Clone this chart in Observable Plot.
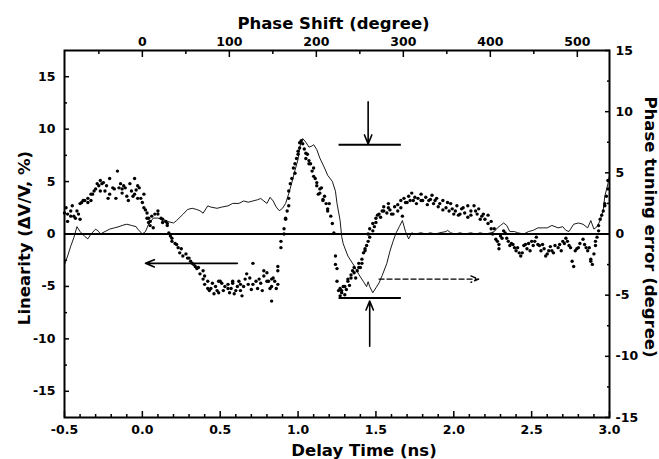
<!DOCTYPE html>
<html><head><meta charset="utf-8">
<script src="https://cdn.jsdelivr.net/npm/d3@7"></script>
<script src="https://cdn.jsdelivr.net/npm/@observablehq/plot@0.6"></script>
<style>html,body{margin:0;padding:0;background:#fff;} svg{display:block}</style>
</head><body><div id="chart"></div>
<script>
// Linearity scatter (left axis, %)
const dotTime = [
-0.50,-0.49,-0.48,-0.48,-0.46,-0.46,-0.45,-0.44,-0.43,-0.42,-0.41,-0.40,-0.40,-0.39,-0.38,-0.37,-0.35,-0.35,-0.33,-0.33,
-0.32,-0.31,-0.30,-0.29,-0.28,-0.27,-0.27,-0.26,-0.25,-0.24,-0.23,-0.22,-0.21,-0.21,-0.19,-0.18,-0.17,-0.16,-0.15,-0.14,
-0.13,-0.13,-0.12,-0.11,-0.10,-0.09,-0.08,-0.07,-0.06,-0.05,-0.05,-0.04,-0.03,-0.02,-0.03,-0.01,0.00,0.01,
0.01,0.02,0.03,0.03,0.04,0.04,0.05,0.05,0.06,0.07,0.08,0.10,0.10,0.12,0.13,0.13,0.15,0.16,0.16,0.17,
0.18,0.19,0.19,0.21,0.22,0.23,0.24,0.25,0.26,0.28,0.29,0.30,0.31,0.32,0.33,0.34,0.35,0.36,0.37,0.39,
0.39,0.40,0.40,0.42,0.42,0.43,0.44,0.45,0.46,0.47,0.48,0.49,0.49,0.50,0.51,0.52,0.53,0.55,0.55,0.56,
0.57,0.58,0.58,0.59,0.60,0.61,0.62,0.63,0.63,0.64,0.65,0.66,0.67,0.68,0.69,0.70,0.71,0.71,0.73,0.74,
0.75,0.76,0.77,0.78,0.78,0.80,0.80,0.81,0.82,0.83,0.83,0.83,0.84,0.85,0.86,0.87,0.87,0.87,
0.89,0.89,0.91,0.91,0.92,0.92,0.93,0.94,0.94,0.94,0.95,0.96,0.97,0.98,0.98,0.99,1.00,1.00,1.01,1.01,
1.02,1.03,1.04,1.05,1.05,1.06,1.07,1.07,1.08,1.09,1.10,1.10,1.11,1.12,1.12,1.13,1.14,1.14,1.15,1.16,
1.16,1.17,1.18,1.19,1.19,1.20,1.21,1.22,1.23,1.24,1.24,1.25,1.25,
1.26,1.27,1.27,1.28,1.28,1.29,1.30,1.30,1.31,1.32,1.32,1.33,1.34,1.34,1.35,1.36,1.36,1.37,1.38,1.39,
1.39,1.40,1.41,1.41,1.42,1.43,1.43,1.44,1.45,1.45,1.46,1.46,1.48,1.48,1.49,1.50,1.50,1.51,1.52,1.53,
1.54,1.55,1.55,1.57,1.58,1.58,1.59,1.60,1.61,1.62,1.64,1.64,1.66,1.66,1.67,1.68,
1.69,1.70,1.71,1.72,1.73,1.74,1.75,1.76,1.77,1.79,1.79,1.80,1.82,1.83,1.84,1.85,1.86,1.87,1.88,1.89,
1.90,1.91,1.93,1.93,1.95,1.96,1.97,1.98,1.99,2.00,2.01,2.02,2.03,2.04,2.05,2.06,2.07,2.09,2.09,2.11,
2.11,2.13,2.14,2.15,2.16,2.17,2.18,2.19,2.20,2.22,2.22,2.24,2.24,
2.25,2.26,2.27,2.28,2.29,2.29,2.30,2.31,2.32,2.33,2.34,2.35,2.36,2.37,2.38,2.39,2.40,2.41,2.42,2.43,
2.44,2.45,2.46,2.47,2.48,2.49,2.50,2.51,2.52,2.53,2.54,2.55,2.56,2.57,2.58,2.59,2.60,2.61,2.62,2.63,
2.64,2.65,2.67,2.68,2.69,2.70,2.71,2.72,2.73,2.74,2.75,2.76,2.77,2.78,2.79,2.80,2.81,2.83,2.84,2.85,
2.86,2.87,2.88,2.88,2.89,2.90,2.91,2.91,2.92,2.93,2.93,2.94,2.95,2.96,2.97,2.97,2.98,2.99,2.99
];
const dotLinearity = [
2.0,2.5,1.9,1.2,2.2,1.7,2.7,1.7,1.5,2.2,1.9,1.4,2.9,3.0,3.2,3.2,3.0,3.4,3.8,3.2,
3.8,4.1,4.3,4.8,4.6,4.1,5.1,4.8,4.9,4.1,4.6,3.4,5.3,3.8,4.4,4.3,3.4,6.0,4.4,4.8,
3.9,4.3,4.6,4.4,3.6,3.2,4.8,4.1,3.6,5.3,3.8,4.2,4.6,4.4,3.4,3.4,3.0,3.8,
2.5,2.3,2.0,1.5,1.5,1.1,1.2,0.8,1.7,0.6,1.9,1.9,2.2,1.5,1.1,1.4,1.2,1.0,0.8,0.1,
-0.2,-0.4,-0.7,-0.9,-1.0,-1.3,-1.8,-1.4,-2.1,-1.9,-2.3,-2.3,-2.6,-2.8,-2.9,-3.1,-3.3,-3.2,-3.8,-3.5,
-4.3,-4.0,-4.8,-5.2,-4.5,-5.4,-5.2,-4.7,-5.7,-5.0,-5.4,-5.6,-4.5,-4.5,-4.7,-5.4,-5.0,-4.8,-5.2,-5.6,
-5.2,-4.5,-4.7,-5.7,-5.4,-5.0,-4.5,-4.8,-5.4,-5.9,-5.0,-4.3,-3.8,-4.8,-4.2,-5.3,-2.8,-4.8,-4.5,-5.2,
-4.3,-4.7,-5.4,-4.0,-3.5,-4.5,-3.7,-4.5,-5.2,-4.3,-5.0,-6.4,-4.2,-4.5,-5.2,-4.8,-3.5,-3.1,
-1.3,-0.7,0.0,0.5,1.4,1.5,2.2,2.7,3.4,4.1,4.8,5.3,6.3,5.8,6.7,7.2,7.9,7.6,8.2,8.7,
8.9,8.6,8.1,7.2,7.7,7.6,6.7,7.0,6.7,6.0,6.3,5.5,5.3,4.9,4.6,3.8,4.3,3.9,4.4,3.3,
3.2,3.6,2.9,2.4,2.2,2.9,1.7,1.0,0.1,-2.1,-2.9,-3.3,-4.5,
-5.4,-5.9,-5.2,-5.6,-5.4,-5.0,-5.8,-5.0,-5.3,-4.3,-4.5,-4.9,-4.2,-3.9,-3.5,-3.7,-3.2,-4.2,-3.5,-3.2,
-2.8,-3.2,-2.4,-2.8,-1.8,-1.6,-1.4,-1.1,-0.7,0.0,-0.3,0.5,0.3,1.0,0.7,1.5,1.1,1.8,1.9,1.6,
2.2,2.2,2.6,2.0,2.5,2.9,2.3,1.9,1.9,2.6,2.2,2.8,2.5,3.2,1.7,3.4,
3.0,3.0,3.6,3.2,3.9,3.2,3.5,2.9,3.4,3.8,3.2,3.2,3.5,2.8,3.2,3.3,3.7,2.9,3.2,3.4,
2.6,2.9,3.2,2.3,2.5,3.0,2.2,2.9,2.4,1.9,2.2,2.7,1.8,1.9,2.4,2.5,2.0,1.6,2.7,2.2,
1.8,2.7,2.2,1.9,2.4,1.4,1.7,1.9,1.4,1.8,1.0,1.2,0.5,
0.0,0.5,-0.5,-0.7,-1.0,-1.4,-0.2,-0.4,0.3,0.1,-0.4,-0.7,-1.1,-0.9,-1.0,-1.3,-1.6,-1.3,-1.8,-2.1,
-1.8,-1.1,-1.0,-1.4,-0.9,-1.6,-0.7,-1.1,-0.7,-0.3,-1.0,-1.1,-1.6,-1.0,-1.4,-2.1,-1.9,-1.6,-1.2,-1.6,
-1.8,-1.1,-1.3,-1.0,-1.6,-0.7,-0.9,-0.4,-0.7,-1.1,-1.3,-2.6,-3.1,-1.6,-1.4,-1.3,-0.9,-0.5,-1.0,-1.3,
-1.6,-1.3,-2.4,-2.6,-2.9,-1.9,-1.1,-0.7,-0.3,0.3,0.8,1.4,1.8,2.2,2.7,2.9,3.6,4.3,5.1
];
// Phase tuning error line (right axis, degree)
const lineTime = [
-0.50,-0.48,-0.46,-0.44,-0.42,-0.40,-0.37,-0.35,-0.33,-0.30,-0.28,-0.27,-0.24,-0.21,-0.18,-0.15,-0.13,-0.10,-0.07,-0.04,
-0.03,0.00,0.02,0.04,0.07,0.10,0.13,0.17,0.20,0.22,0.26,0.29,0.32,0.35,0.37,0.39,0.42,0.44,0.48,0.51,
0.55,0.58,0.62,0.65,0.68,0.71,0.74,0.76,0.78,0.80,0.82,0.84,0.86,0.88,0.90,0.92,0.94,0.96,0.98,1.00,
1.01,1.03,1.05,1.07,1.09,1.10,1.12,1.14,1.17,1.19,1.22,1.24,1.25,1.27,1.28,1.29,1.32,1.36,1.39,1.42,
1.44,1.45,1.46,1.48,1.50,1.52,1.54,1.57,1.59,1.61,1.63,1.65,1.67,1.69,1.71,1.73,1.75,1.79,1.82,1.85,
1.88,1.91,1.95,1.96,1.98,2.01,2.04,2.07,2.11,2.14,2.17,2.20,2.24,2.26,2.28,2.30,2.32,2.34,2.36,2.39,
2.41,2.45,2.48,2.51,2.54,2.57,2.60,2.63,2.67,2.70,2.72,2.74,2.77,2.80,2.83,2.86,2.88,2.90,2.92,2.94,
2.96,2.97,2.99,3.00
];
const linePhaseError = [
-2.5,-1.8,-1.0,-0.3,0.6,0.2,-0.2,-0.4,0.0,0.4,0.2,0.0,0.2,0.4,0.5,0.6,0.7,0.8,0.7,0.6,
0.4,0.0,0.2,0.8,1.3,1.3,1.2,1.0,0.9,1.1,1.6,2.0,2.1,2.0,1.9,1.7,2.3,2.2,2.1,2.2,
2.3,2.5,2.5,2.7,2.6,2.7,2.8,2.9,2.7,2.5,3.0,2.7,2.2,1.9,2.1,2.5,3.3,4.2,5.2,6.1,
7.1,7.8,7.5,7.1,7.2,7.3,6.9,6.2,5.4,4.8,4.3,3.5,2.5,1.1,-0.2,-0.8,-1.8,-2.6,-3.3,-3.9,
-4.3,-3.9,-4.3,-4.8,-4.4,-4.0,-3.4,-2.4,-1.4,-0.6,0.1,0.6,1.1,0.2,-0.4,0.1,0.0,0.1,0.0,0.1,
0.0,0.1,0.2,0.3,0.1,0.0,0.1,0.0,0.1,0.0,0.1,0.0,0.1,0.2,0.5,0.7,0.9,0.7,0.2,0.2,
0.1,0.0,0.2,0.3,0.5,0.5,0.5,0.7,0.5,0.6,0.3,0.2,0.8,0.9,0.8,0.5,1.1,0.4,0.6,1.1,
2.0,3.1,4.1,4.8
];
// Axis ticks
const bottomMajor = [-0.5, 0, 0.5, 1, 1.5, 2, 2.5, 3];
const bottomMinor = [-0.4,-0.3,-0.2,-0.1,0.1,0.2,0.3,0.4,0.6,0.7,0.8,0.9,1.1,1.2,1.3,1.4,1.6,1.7,1.8,1.9,2.1,2.2,2.3,2.4,2.6,2.7,2.8,2.9];
const leftMajor = [-15, -10, -5, 0, 5, 10, 15];
const leftMinor = [-12.5, -7.5, -2.5, 2.5, 7.5, 12.5];
const rightMajor = [-15, -10, -5, 0, 5, 10, 15];
const rightMinor = [-12.5, -7.5, -2.5, 2.5, 7.5, 12.5];
const topMajor = [0, 100, 200, 300, 400, 500];
const topMinor = [-50, 50, 150, 250, 350, 450];
const degPerNs = 179;          // phase shift (degree) per ns of delay
const rightToLeft = 17.5 / 15; // right axis (degree) to left axis (%) units
// Annotations
const solidArrows = [
  {x1: 0.61, y1: -2.8, x2: 0.02, y2: -2.8},
  {x1: 1.45, y1: 12.6, x2: 1.45, y2: 8.6},
  {x1: 1.46, y1: -10.7, x2: 1.46, y2: -6.4}
];
const dashedArrows = [{x1: 1.52, y1: -4.3, x2: 2.16, y2: -4.3}];
const markerBars = [
  {x1: 1.26, y1: 8.5, x2: 1.66, y2: 8.5},
  {x1: 1.26, y1: -6.1, x2: 1.66, y2: -6.1}
];

const dots = dotTime.map((t, i) => ({t, v: dotLinearity[i]}));
const line = lineTime.map((t, i) => ({t, v: linePhaseError[i] * rightToLeft}));
const fmt1 = d => d.toFixed(1);
const fmtInt = d => String(d);

const chart = Plot.plot({
  width: 659,
  height: 459,
  marginLeft: 64,
  marginRight: 50,
  marginTop: 50,
  marginBottom: 42,
  style: {fontFamily: "DejaVu Sans", fontWeight: "bold", fontSize: "12.5px", background: "white", color: "black"},
  x: {domain: [-0.5, 3.0], axis: null},
  y: {domain: [-17.5, 17.5], axis: null},
  marks: [
    Plot.ruleY([0], {stroke: "black", strokeWidth: 2}),
    Plot.line(line, {x: "t", y: "v", stroke: "black", strokeWidth: 0.9}),
    Plot.dot(dots, {x: "t", y: "v", r: 1.7, fill: "black", stroke: null}),
    Plot.arrow(solidArrows, {x1: "x1", y1: "y1", x2: "x2", y2: "y2", stroke: "black", strokeWidth: 1.6, headLength: 9, headAngle: 45}),
    Plot.arrow(dashedArrows, {x1: "x1", y1: "y1", x2: "x2", y2: "y2", stroke: "black", strokeWidth: 1.4, strokeDasharray: "5,3", headLength: 9, headAngle: 45}),
    Plot.link(markerBars, {x1: "x1", y1: "y1", x2: "x2", y2: "y2", stroke: "black", strokeWidth: 2}),
    // bottom axis
    Plot.axisX(bottomMajor, {anchor: "bottom", tickSize: -6, tickPadding: 14, strokeWidth: 1.5, tickFormat: fmt1, label: null}),
    Plot.axisX(bottomMinor, {anchor: "bottom", tickSize: -3, tickPadding: 0, strokeWidth: 1.5, tickFormat: () => "", label: null}),
    // top axis (phase shift)
    Plot.axisX(topMajor.map(d => d / degPerNs), {anchor: "top", tickSize: -6, tickPadding: 11, strokeWidth: 1.5, tickFormat: d => String(Math.round(d * degPerNs)), label: null}),
    Plot.axisX(topMinor.map(d => d / degPerNs), {anchor: "top", tickSize: -3, tickPadding: 0, strokeWidth: 1.5, tickFormat: () => "", label: null}),
    // left axis
    Plot.axisY(leftMajor, {anchor: "left", tickSize: -5, tickPadding: 14, strokeWidth: 1.5, tickFormat: fmtInt, label: null}),
    Plot.axisY(leftMinor, {anchor: "left", tickSize: -3, tickPadding: 0, strokeWidth: 1.5, tickFormat: () => "", label: null}),
    // right axis (phase tuning error)
    Plot.axisY(rightMajor.map(d => d * rightToLeft), {anchor: "right", tickSize: -5, tickPadding: 11, strokeWidth: 1.5, tickFormat: d => String(Math.round(d / rightToLeft)), label: null}),
    Plot.axisY(rightMinor.map(d => d * rightToLeft), {anchor: "right", tickSize: -3, tickPadding: 0, strokeWidth: 1.5, tickFormat: () => "", label: null}),
    Plot.frame({stroke: "black", strokeWidth: 2}),
    // titles
    Plot.text(["Phase Shift (degree)"], {frameAnchor: "top", dx: -3.5, dy: -22, textAnchor: "middle", lineAnchor: "bottom", fontSize: 16.5, fontWeight: "bold"}),
    Plot.text(["Delay Time (ns)"], {frameAnchor: "bottom", dx: 27, dy: 38, textAnchor: "middle", lineAnchor: "bottom", fontSize: 16.5, fontWeight: "bold"}),
    Plot.text(["Linearity (\u0394V/V, %)"], {frameAnchor: "left", dx: -40, dy: 4, rotate: -90, textAnchor: "middle", lineAnchor: "middle", fontSize: 16.5, fontWeight: "bold"}),
    Plot.text(["Phase tuning error (degree)"], {frameAnchor: "right", dx: 41, dy: -7, rotate: 90, textAnchor: "middle", lineAnchor: "middle", fontSize: 16.5, fontWeight: "bold"})
  ]
});
document.getElementById("chart").appendChild(chart);
</script>
</body></html>
